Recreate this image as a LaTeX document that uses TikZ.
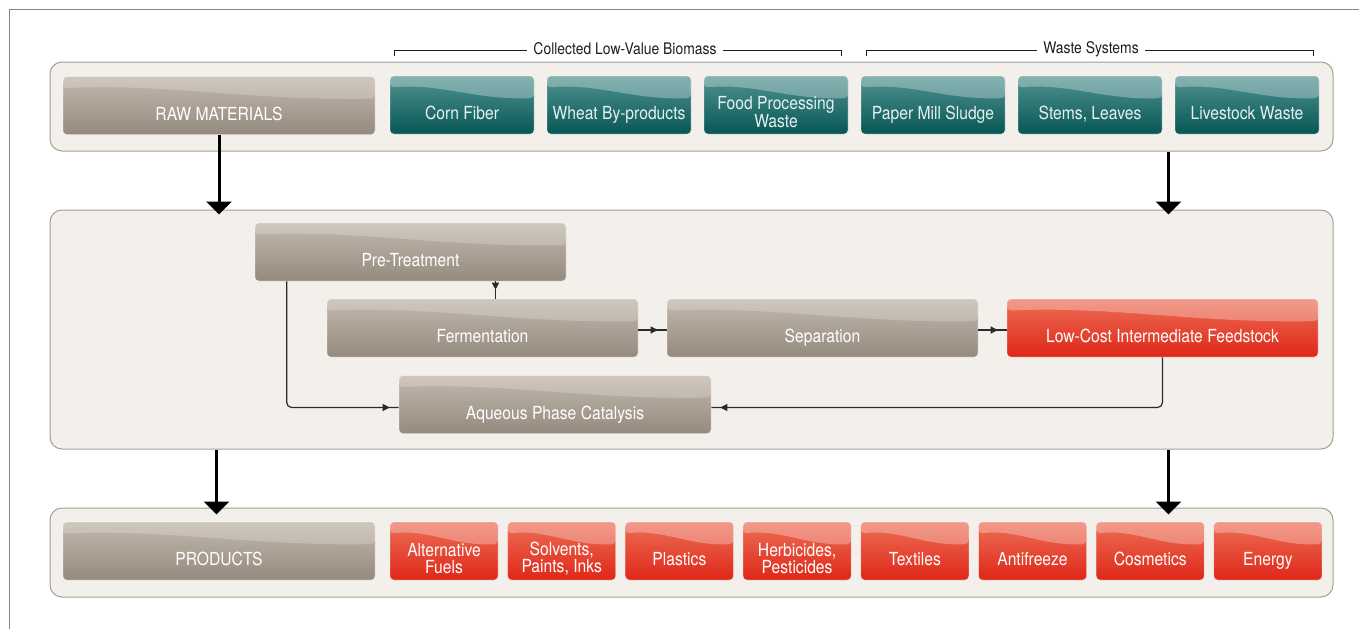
\documentclass[tikz,border=0pt]{standalone}
\usepackage{fontspec}
\setmainfont{TeX Gyre Heros}[FakeStretch=0.87]
\usetikzlibrary{arrows.meta,calc,decorations.markings}

\definecolor{framecol}{HTML}{8F8378}
\definecolor{panelfill}{HTML}{F3F0EC}
\definecolor{panelline}{HTML}{A99E93}
\definecolor{greyT}{HTML}{C2B8AD}
\definecolor{greyB}{HTML}{958A7E}
\definecolor{tealT}{HTML}{4F9290}
\definecolor{tealB}{HTML}{075755}
\definecolor{redT}{HTML}{EC6E55}
\definecolor{redB}{HTML}{DF2718}
\definecolor{tealtext}{HTML}{E6F0EF}
\definecolor{capcol}{HTML}{1E1E1E}
\definecolor{linkcol}{HTML}{2A2A2A}

\tikzset{
  % glossy highlight across the upper part of a box
  gloss/.style={path picture={
    \fill[white, fill opacity=#1]
      let \p1=(path picture bounding box.north west),
          \p2=(path picture bounding box.south east),
          \n1={\x2-\x1}, \n2={\y1-\y2} in
      (\x1,\y1) -- (\x2,\y1) -- (\x2,\y1-0.38*\n2)
      .. controls (\x1+0.6*\n1,\y1-0.42*\n2) and (\x1+0.35*\n1,\y1-0.12*\n2) ..
      (\x1,\y1-0.2*\n2) -- cycle;
  }},
  panel/.style={minimum width=1283pt, inner sep=0pt, rounded corners=12pt,
    fill=panelfill, draw=panelline, line width=1pt},
  boxbase/.style={rounded corners=4pt, minimum height=58pt, inner sep=0pt,
    draw=white, draw opacity=0.35, line width=0.6pt},
  greybox/.style={boxbase, minimum width=#1, top color=greyT, bottom color=greyB, gloss=0.22},
  greybox/.default=312pt,
  tealbox/.style={boxbase, minimum width=144pt, top color=tealT, bottom color=tealB, gloss=0.3},
  redbox/.style={boxbase, minimum width=#1, top color=redT, bottom color=redB, gloss=0.3},
  redbox/.default=108pt,
  lbl/.style={text height=13pt, text depth=4pt, yshift=-10.3pt, text=white,
    font=\fontsize{18pt}{17pt}\selectfont},
  lbltwo/.style={yshift=-7.5pt, text=white, align=center,
    font=\fontsize{18pt}{17pt}\selectfont},
  tl/.style={text=tealtext},
  caption/.style={fill=white, inner xsep=6pt, inner ysep=1pt, text=capcol,
    font=\fontsize{16pt}{16pt}\selectfont},
  bigarrow/.style={line width=3pt, -{Triangle[width=25pt,length=13pt]}},
  link/.style={draw=linkcol, line width=1.2pt, rounded corners=5pt,
    postaction={decorate},
    decoration={markings, mark=at position -9pt with {\arrow[linkcol]{Triangle[length=7pt,width=7pt]}}}},
}

\begin{document}
\begin{tikzpicture}[x=1pt,y=-1pt]
\useasboundingbox (0,0) rectangle (1359,629);
\fill[white] (0,0) rectangle (1359,629);

% page frame
\draw[framecol, line width=1pt] (9.5,629) -- (9.5,9.5) -- (1359,9.5);

% three bands
\node[panel, minimum height=89pt] (toppanel) at (691.5,106.5) {};
\node[panel, minimum height=239pt] (midpanel) at (691.5,329.5) {};
\node[panel, minimum height=89pt] (botpanel) at (691.5,552.5) {};

% group brackets over the feedstock boxes
\coordinate (bra) at (394,56);
\coordinate (brb) at (841,56);
\coordinate (brc) at (866,56);
\coordinate (brd) at (1313,56);
\draw[capcol, line width=1pt] (bra) -- (394,50) -- (841,50) -- (brb);
\draw[capcol, line width=1pt] (brc) -- (866,50) -- (1313,50) -- (brd);
\node[caption] (capA) at (625,49) {Collected Low-Value Biomass};
\node[caption] (capB) at (1091,49) {Waste Systems};

% raw materials row
\node[greybox, label={[lbl]center:RAW MATERIALS}] (raw) at (219,105.5) {};
\node[tealbox, label={[lbl,tl]center:Corn Fiber}] (corn) at (462,105) {};
\node[tealbox, label={[lbl,tl]center:Wheat By-products}] (wheat) at (619,105) {};
\node[tealbox, label={[lbltwo,tl]center:{Food Processing\\Waste}}] (food) at (776,105) {};
\node[tealbox, label={[lbl,tl]center:Paper Mill Sludge}] (paper) at (933,105) {};
\node[tealbox, label={[lbl,tl]center:{Stems, Leaves}}] (stems) at (1090,105) {};
\node[tealbox, label={[lbl,tl]center:Livestock Waste}] (live) at (1247,105) {};

% processing chain
\node[greybox=311pt, label={[lbl]center:Pre-Treatment}] (pre) at (410.5,252) {};
\node[greybox=311pt, label={[lbl]center:Fermentation}] (ferm) at (482.5,328) {};
\node[greybox=311pt, label={[lbl]center:Separation}] (sep) at (822.5,328) {};
\node[redbox=311pt, label={[lbl]center:Low-Cost Intermediate Feedstock}] (feed) at (1162.5,328) {};
\node[greybox, label={[lbl]center:Aqueous Phase Catalysis}] (aqc) at (555,404.5) {};

% products row
\node[greybox, label={[lbl]center:PRODUCTS}] (prod) at (219,551) {};
\node[redbox, label={[lbltwo]center:{Alternative\\Fuels}}] (fuels) at (444,551) {};
\node[redbox, label={[lbltwo]center:{Solvents,\\Paints, Inks}}] (solv) at (561.7,551) {};
\node[redbox, label={[lbl]center:Plastics}] (plast) at (679.4,551) {};
\node[redbox, label={[lbltwo]center:{Herbicides,\\Pesticides}}] (herb) at (797.1,551) {};
\node[redbox, label={[lbl]center:Textiles}] (text) at (914.8,551) {};
\node[redbox, label={[lbl]center:Antifreeze}] (anti) at (1032.5,551) {};
\node[redbox, label={[lbl]center:Cosmetics}] (cosm) at (1150.2,551) {};
\node[redbox, label={[lbl]center:Energy}] (energy) at (1267.9,551) {};

% flows between the bands
\coordinate (rsrc) at ($(toppanel.south east)+(-165,0)$);
\coordinate (lsrc) at ($(midpanel.south west)+(167,0)$);
\coordinate (rsrc2) at ($(midpanel.south east)+(-165,0)$);
\draw[bigarrow] (raw.south) -- ($(raw.south |- midpanel.north)+(0,5)$);
\draw[bigarrow] (rsrc) -- ($(rsrc |- midpanel.north)+(0,5)$);
\draw[bigarrow] (lsrc) -- ($(lsrc |- botpanel.north)+(0,7)$);
\draw[bigarrow] (rsrc2) -- ($(rsrc2 |- botpanel.north)+(0,7)$);

% flows inside the processing band
\draw[link] ([xshift=85pt]pre.south) -- ([xshift=85pt]pre.south |- ferm.north);
\draw[link] ([yshift=-2pt]ferm.east) -- ([yshift=-2pt]sep.west);
\draw[link] ([yshift=-2pt]sep.east) -- ([yshift=-2pt]feed.west);
\draw[link] ([xshift=32pt]pre.south west) |- ([yshift=-3pt]aqc.west);
\draw[link] (feed.south) |- ([yshift=-3pt]aqc.east);
\end{tikzpicture}
\end{document}
